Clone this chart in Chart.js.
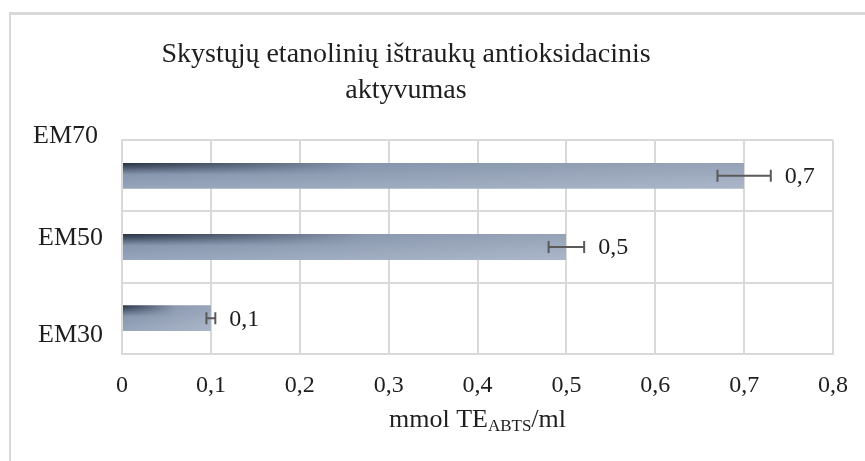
<!DOCTYPE html>
<html>
<head>
<meta charset="utf-8">
<script src="https://cdn.jsdelivr.net/npm/chart.js@4.4.1/dist/chart.umd.min.js"></script>
<style>
  html, body { margin: 0; padding: 0; background: #fff; }
  #wrap { position: relative; width: 865px; height: 461px; }
</style>
</head>
<body>
<div id="wrap"><canvas id="chart" width="865" height="461"></canvas></div>
<script>
// Chart data (top to bottom)
const categories = ['EM70', 'EM50', 'EM30'];
const values = [0.7, 0.5, 0.1];
const errors = [0.03, 0.02, 0.005];
const xTicks = [0, 0.1, 0.2, 0.3, 0.4, 0.5, 0.6, 0.7, 0.8];

const titleLines = ['Skystųjų etanolinių ištraukų antioksidacinis', 'aktyvumas'];
const axisTitle = { main: 'mmol TE', sub: 'ABTS', tail: '/ml' };

const FONT = '"Liberation Serif", "Times New Roman", serif';
const TEXT = '#1e1e1e';
const GRID = '#d9d9d9';
const BAR_PCT = 0.365;

function fmt(v) {
    return String(+v.toFixed(2)).replace('.', ',');
}

// Build a gradient pattern for one bar, placed from the scales
function barFill(context) {
    const chart = context.chart;
    const xs = chart.scales.x, ys = chart.scales.y;
    const i = context.dataIndex;
    if (!xs || !ys || i === undefined) return '#8a9ab2';
    const x0 = xs.getPixelForValue(0);
    const x1 = xs.getPixelForValue(values[i]);
    const yc = ys.getPixelForValue(i);
    if (![x0, x1, yc, ys.height].every(Number.isFinite) || x1 - x0 < 2) return '#8a9ab2';
    const band = ys.height / categories.length;
    const h = Math.max(2, Math.round(band * BAR_PCT));
    const w = Math.max(2, Math.round(x1 - x0));
    const top = yc - h / 2;

    const c = document.createElement('canvas');
    c.width = w; c.height = h;
    const g = c.getContext('2d');
    // base: slightly lighter towards bottom
    let lg = g.createLinearGradient(0, 0, 0, h);
    lg.addColorStop(0, '#7c8ca5');
    lg.addColorStop(1, '#96a5bb');
    g.fillStyle = lg;
    g.fillRect(0, 0, w, h);
    // lighter towards right end
    lg = g.createLinearGradient(0, 0, w, 0);
    lg.addColorStop(0, 'rgba(255,255,255,0)');
    lg.addColorStop(1, 'rgba(255,255,255,0.2)');
    g.fillStyle = lg;
    g.fillRect(0, 0, w, h);
    // dark shading at the top-left
    const o = document.createElement('canvas');
    o.width = w; o.height = h;
    const og = o.getContext('2d');
    lg = og.createLinearGradient(0, 0, 0, h);
    lg.addColorStop(0, 'rgba(36,45,60,0.95)');
    lg.addColorStop(0.15, 'rgba(45,56,74,0.75)');
    lg.addColorStop(0.45, 'rgba(60,72,92,0)');
    og.fillStyle = lg;
    og.fillRect(0, 0, w, h);
    og.globalCompositeOperation = 'destination-in';
    const fade = Math.min(w * 0.6, 240);
    lg = og.createLinearGradient(0, 0, fade, 0);
    lg.addColorStop(0, 'rgba(0,0,0,1)');
    lg.addColorStop(1, 'rgba(0,0,0,0)');
    og.fillStyle = lg;
    og.fillRect(0, 0, w, h);
    g.drawImage(o, 0, 0);

    const pat = chart.ctx.createPattern(c, 'no-repeat');
    pat.setTransform(new DOMMatrix().translate(Math.round(x0), Math.round(top)));
    return pat;
}

const framePlugin = {
    id: 'frame',
    beforeDraw(chart) {
        const ctx = chart.ctx;
        ctx.save();
        ctx.fillStyle = GRID;
        ctx.fillRect(9, 12, chart.width, 3);
        ctx.fillRect(9, 12, 2, chart.height);
        ctx.restore();
    }
};

const textPlugin = {
    id: 'texts',
    afterDraw(chart) {
        const ctx = chart.ctx;
        const area = chart.chartArea;
        ctx.save();
        ctx.fillStyle = TEXT;

        // title
        ctx.font = '28px ' + FONT;
        ctx.textAlign = 'center';
        ctx.textBaseline = 'alphabetic';
        ctx.fillText(titleLines[0], 406, 62);
        ctx.fillText(titleLines[1], 406, 98);

        // category labels (spread like the original)
        const pos = [-0.02, 0.46, 0.91];
        const dx = [-5, 0, 0];
        ctx.font = '26px ' + FONT;
        ctx.textAlign = 'right';
        ctx.textBaseline = 'middle';
        categories.forEach((c, i) => {
            ctx.fillText(c, area.left - 19 + dx[i], area.top + (area.bottom - area.top) * pos[i]);
        });

        // axis title with subscript
        const cx = (area.left + area.right) / 2;
        const big = '26px ' + FONT, small = '17px ' + FONT;
        ctx.font = big;
        const w1 = ctx.measureText(axisTitle.main).width;
        const w3 = ctx.measureText(axisTitle.tail).width;
        ctx.font = small;
        const w2 = ctx.measureText(axisTitle.sub).width;
        let x = cx - (w1 + w2 + w3) / 2;
        const base = 427;
        ctx.textAlign = 'left';
        ctx.textBaseline = 'alphabetic';
        ctx.font = big;
        ctx.fillText(axisTitle.main, x, base);
        x += w1;
        ctx.font = small;
        ctx.fillText(axisTitle.sub, x, base + 4);
        x += w2;
        ctx.font = big;
        ctx.fillText(axisTitle.tail, x, base);
        ctx.restore();
    },
    afterDatasetsDraw(chart) {
        const ctx = chart.ctx;
        const xs = chart.scales.x, ys = chart.scales.y;
        ctx.save();
        // error bars
        ctx.strokeStyle = '#5a5a5a';
        ctx.lineWidth = 2;
        values.forEach((v, i) => {
            const yc = ys.getPixelForValue(i);
            const lo = xs.getPixelForValue(v - errors[i]);
            const hi = xs.getPixelForValue(v + errors[i]);
            ctx.beginPath();
            ctx.moveTo(lo, yc); ctx.lineTo(hi, yc);
            ctx.moveTo(lo, yc - 6); ctx.lineTo(lo, yc + 6);
            ctx.moveTo(hi, yc - 6); ctx.lineTo(hi, yc + 6);
            ctx.stroke();
        });
        // value labels
        ctx.fillStyle = TEXT;
        ctx.font = '24px ' + FONT;
        ctx.textAlign = 'left';
        ctx.textBaseline = 'middle';
        values.forEach((v, i) => {
            const yc = ys.getPixelForValue(i);
            const hi = xs.getPixelForValue(v + errors[i]);
            ctx.fillText(fmt(v), hi + 14, yc + 1);
        });
        ctx.restore();
    }
};

new Chart(document.getElementById('chart'), {
    type: 'bar',
    data: {
        labels: categories,
        datasets: [{
            data: values,
            backgroundColor: barFill,
            borderWidth: 0,
            categoryPercentage: 1,
            barPercentage: BAR_PCT
        }]
    },
    options: {
        indexAxis: 'y',
        responsive: false,
        maintainAspectRatio: false,
        animation: false,
        devicePixelRatio: 1,
        layout: { padding: { left: 122, top: 140, right: 30, bottom: 55 } },
        plugins: {
            legend: { display: false },
            title: { display: false },
            tooltip: { enabled: false }
        },
        scales: {
            x: {
                min: 0,
                max: 0.8,
                afterBuildTicks(scale) {
                    scale.ticks = xTicks.map(v => ({ value: v }));
                },
                afterFit(scale) { scale.height = 52; },
                grid: { color: GRID, lineWidth: 2, drawTicks: false },
                border: { color: GRID, width: 2 },
                ticks: {
                    padding: 17,
                    color: TEXT,
                    font: { family: FONT, size: 24 },
                    callback: v => fmt(v)
                }
            },
            y: {
                afterFit(scale) { scale.width = 0; },
                grid: { color: GRID, lineWidth: 2, drawTicks: false, offset: true },
                border: { color: GRID, width: 2 },
                ticks: { display: false }
            }
        }
    },
    plugins: [framePlugin, textPlugin]
});
</script>
</body>
</html>
